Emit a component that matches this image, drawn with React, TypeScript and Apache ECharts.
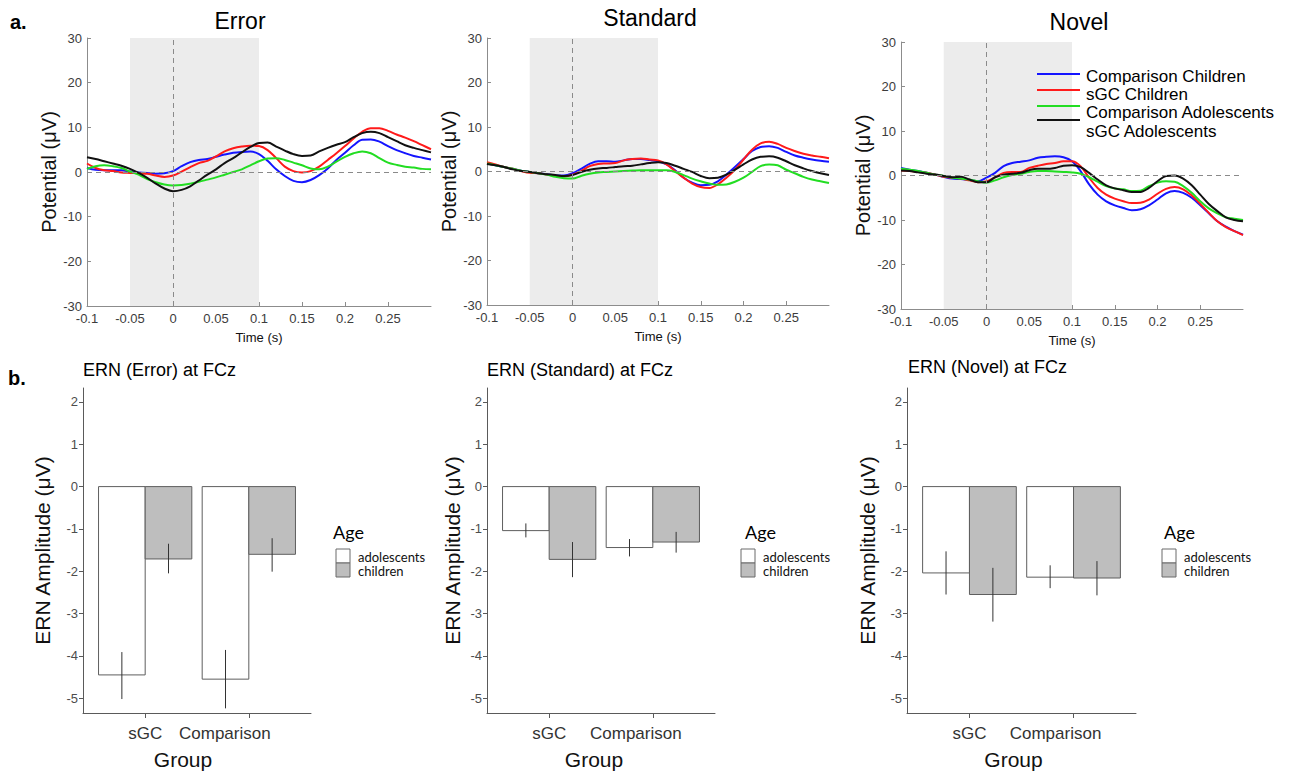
import React, { useEffect, useRef } from "react";
import * as echarts from "echarts";

// ---- ERP waveforms (µV), sampled every 10 ms from -0.1 s to 0.3 s ----
const TIME: number[] = Array.from({ length: 41 }, (_, i) => Math.round((-0.1 + i * 0.01) * 100) / 100);

const SERIES_NAMES = ["Comparison Children", "sGC Children", "Comparison Adolescents", "sGC Adolescents"];
const SERIES_COLORS = ["#1414ff", "#ff1a1a", "#22dd22", "#111111"];

const ERROR_COMP_CHILD = [0.9, 0.5, 0.4, 0.4, 0.4, 0.1, -0.1, -0.2, -0.4, -0.3, 0.2, 1.3, 2.2, 2.7, 2.9, 3.4, 3.9, 4.3, 4.5, 4.6, 4.0, 2.5, 0.6, -0.9, -2.0, -2.3, -1.8, -0.7, 0.8, 2.7, 4.3, 6.0, 7.2, 7.3, 6.8, 5.8, 4.9, 4.2, 3.6, 3.2, 2.8];
const ERROR_SGC_CHILD = [1.9, 0.9, 0.4, 0.2, -0.1, -0.2, -0.3, -0.4, -0.8, -1.1, -0.8, 0.1, 1.1, 2.0, 2.5, 3.5, 4.6, 5.3, 5.7, 5.9, 5.8, 4.9, 3.1, 1.2, 0.2, -0.1, 0.2, 1.2, 2.7, 4.2, 5.8, 7.5, 9.0, 9.8, 9.8, 9.2, 8.4, 7.7, 6.9, 6.0, 5.1];
const ERROR_COMP_ADOL = [0.7, 1.3, 1.5, 1.3, 0.9, 0.1, -0.6, -1.6, -2.3, -2.8, -3.0, -2.9, -2.6, -2.2, -1.7, -1.2, -0.6, 0.0, 0.6, 1.5, 2.4, 3.0, 3.1, 2.7, 2.1, 1.5, 0.8, 0.6, 1.2, 2.3, 3.4, 4.2, 4.6, 4.2, 3.1, 2.1, 1.6, 1.2, 1.0, 0.7, 0.6];
const ERROR_SGC_ADOL = [3.3, 2.9, 2.4, 1.9, 1.4, 0.7, -0.2, -1.3, -2.6, -3.7, -4.3, -4.0, -3.2, -1.9, -0.6, 0.6, 2.0, 3.1, 4.4, 5.6, 6.5, 6.6, 5.7, 4.8, 4.0, 3.6, 3.7, 4.6, 5.4, 6.1, 6.7, 7.8, 8.7, 9.0, 8.7, 7.8, 6.9, 6.0, 5.4, 4.9, 4.4];

const STD_COMP_CHILD = [1.8, 1.4, 1.0, 0.6, 0.2, -0.1, -0.4, -0.6, -0.9, -0.9, -0.4, 0.6, 1.7, 2.3, 2.3, 2.2, 2.5, 2.8, 2.8, 2.6, 2.3, 1.6, 0.3, -1.4, -2.5, -3.1, -3.0, -2.2, -0.7, 1.0, 2.8, 4.6, 5.5, 5.7, 5.3, 4.4, 3.6, 3.1, 2.7, 2.4, 2.2];
const STD_SGC_CHILD = [2.1, 1.6, 1.0, 0.6, 0.1, -0.3, -0.4, -0.7, -1.0, -1.1, -0.7, 0.1, 1.2, 1.7, 1.8, 1.9, 2.5, 2.8, 2.9, 2.7, 2.5, 1.6, 0.1, -1.4, -2.7, -3.5, -3.7, -2.9, -1.4, 0.4, 2.7, 4.9, 6.3, 6.7, 6.2, 5.3, 4.6, 4.0, 3.6, 3.3, 3.0];
const STD_COMP_ADOL = [1.8, 1.4, 1.0, 0.6, 0.2, -0.1, -0.4, -0.7, -1.2, -1.5, -1.6, -1.0, -0.5, -0.2, -0.1, 0.0, 0.1, 0.2, 0.3, 0.3, 0.3, 0.3, -0.1, -0.8, -1.6, -2.2, -2.7, -3.0, -2.9, -2.3, -1.4, -0.1, 1.2, 1.6, 1.4, 0.4, -0.4, -1.2, -1.8, -2.2, -2.6];
const STD_SGC_ADOL = [1.7, 1.4, 1.0, 0.5, 0.1, -0.1, -0.4, -0.6, -0.8, -1.0, -0.8, -0.1, 0.4, 0.7, 0.8, 1.0, 1.2, 1.3, 1.6, 1.9, 2.1, 1.9, 1.3, 0.6, -0.1, -1.0, -1.5, -1.4, -0.7, 0.4, 1.6, 2.7, 3.3, 3.4, 3.1, 2.3, 1.4, 0.7, 0.1, -0.4, -0.8];

const NOV_COMP_CHILD = [1.7, 1.3, 1.0, 0.6, 0.2, -0.3, -0.7, -0.8, -1.0, -1.3, -0.5, 0.6, 2.1, 2.8, 3.1, 3.4, 4.0, 4.2, 4.3, 4.1, 3.2, 1.0, -2.0, -4.3, -5.8, -6.7, -7.3, -7.8, -7.6, -6.7, -5.4, -4.0, -3.5, -3.9, -5.0, -6.7, -8.5, -10.3, -11.5, -12.5, -13.3];
const NOV_SGC_CHILD = [1.1, 1.0, 0.8, 0.6, 0.2, -0.3, -0.5, -0.7, -1.1, -1.5, -1.3, -0.4, 0.6, 0.8, 0.8, 1.7, 2.2, 2.6, 2.8, 3.2, 3.2, 2.1, -0.5, -2.8, -4.3, -5.2, -5.8, -6.2, -6.1, -5.4, -4.1, -3.0, -2.6, -3.1, -4.5, -6.4, -8.4, -10.3, -11.6, -12.5, -13.4];
const NOV_COMP_ADOL = [1.5, 1.3, 1.0, 0.6, 0.2, -0.1, -0.5, -0.7, -0.9, -1.3, -1.6, -1.1, -0.4, 0.1, 0.4, 0.8, 1.0, 1.0, 0.9, 0.8, 0.7, 0.4, -0.4, -1.4, -2.4, -2.9, -3.1, -3.5, -3.4, -2.4, -1.6, -1.3, -1.4, -2.4, -3.9, -5.8, -7.4, -8.5, -9.4, -9.7, -10.0];
const NOV_SGC_ADOL = [1.1, 1.0, 0.7, 0.4, 0.2, -0.1, -0.4, -0.3, -0.9, -1.5, -1.5, -0.4, 0.2, 0.4, 0.6, 1.2, 1.5, 1.5, 1.7, 2.2, 2.3, 1.9, 0.6, -0.9, -2.2, -2.9, -3.3, -3.7, -3.7, -2.8, -1.3, -0.1, 0.0, -0.7, -2.2, -4.3, -6.4, -8.0, -9.4, -10.0, -10.3];

const TOP_TITLES = ["Error", "Standard", "Novel"];
const TOP_DATA = [
  [ERROR_COMP_CHILD, ERROR_SGC_CHILD, ERROR_COMP_ADOL, ERROR_SGC_ADOL],
  [STD_COMP_CHILD, STD_SGC_CHILD, STD_COMP_ADOL, STD_SGC_ADOL],
  [NOV_COMP_CHILD, NOV_SGC_CHILD, NOV_COMP_ADOL, NOV_SGC_ADOL],
];
const TIME_TICKS = [-0.1, -0.05, 0, 0.05, 0.1, 0.15, 0.2, 0.25];
const WINDOW_START = -0.05;
const WINDOW_END = 0.1;

// ---- ERN amplitudes (mean, lower, upper) ----
const GROUPS = ["sGC", "Comparison"];
const AGE_LEVELS = ["adolescents", "children"];

const ERN_ERROR_ADOL = [-4.45, -4.55];
const ERN_ERROR_ADOL_LO = [-5.02, -5.24];
const ERN_ERROR_ADOL_HI = [-3.91, -3.86];
const ERN_ERROR_CHILD = [-1.71, -1.6];
const ERN_ERROR_CHILD_LO = [-2.05, -2.01];
const ERN_ERROR_CHILD_HI = [-1.35, -1.22];

const ERN_STD_ADOL = [-1.04, -1.44];
const ERN_STD_ADOL_LO = [-1.2, -1.65];
const ERN_STD_ADOL_HI = [-0.87, -1.24];
const ERN_STD_CHILD = [-1.72, -1.31];
const ERN_STD_CHILD_LO = [-2.14, -1.56];
const ERN_STD_CHILD_HI = [-1.31, -1.07];

const ERN_NOV_ADOL = [-2.04, -2.14];
const ERN_NOV_ADOL_LO = [-2.55, -2.4];
const ERN_NOV_ADOL_HI = [-1.53, -1.86];
const ERN_NOV_CHILD = [-2.55, -2.16];
const ERN_NOV_CHILD_LO = [-3.19, -2.57];
const ERN_NOV_CHILD_HI = [-1.92, -1.76];

const BAR_TITLES = ["ERN (Error) at FCz", "ERN (Standard) at FCz", "ERN (Novel) at FCz"];
const BAR_DATA = [
  [
    [ERN_ERROR_ADOL, ERN_ERROR_ADOL_LO, ERN_ERROR_ADOL_HI],
    [ERN_ERROR_CHILD, ERN_ERROR_CHILD_LO, ERN_ERROR_CHILD_HI],
  ],
  [
    [ERN_STD_ADOL, ERN_STD_ADOL_LO, ERN_STD_ADOL_HI],
    [ERN_STD_CHILD, ERN_STD_CHILD_LO, ERN_STD_CHILD_HI],
  ],
  [
    [ERN_NOV_ADOL, ERN_NOV_ADOL_LO, ERN_NOV_ADOL_HI],
    [ERN_NOV_CHILD, ERN_NOV_CHILD_LO, ERN_NOV_CHILD_HI],
  ],
];
const AMP_TICKS = [-5, -4, -3, -2, -1, 0, 1, 2];

// ---- layout ----
const FONT = "'Liberation Sans', Arial, sans-serif";
const KEY_FONT = "Lato, 'Liberation Sans', sans-serif";
const TOP_GRIDS = [
  { left: 87, top: 38, width: 344, height: 268 },
  { left: 487, top: 38, width: 342, height: 267 },
  { left: 901, top: 42, width: 342, height: 267 },
];
const TOP_TITLE_POS = [
  [240, 21],
  [650, 18],
  [1079, 22],
];
const BAR_GRIDS = [
  { left: 83, top: 388, width: 228, height: 325 },
  { left: 487, top: 388, width: 228, height: 325 },
  { left: 907, top: 388, width: 229, height: 325 },
];
const BAR_TITLE_POS = [
  [83, 370],
  [487, 370],
  [908, 367],
];
const BAR_NAME_GAP = [30, 24, 29];
const COMPARISON_SHIFT = [48, 34, 36];
const GROUP_SHIFT = [28, 14, 16];
const KEY_POS = [
  { age: 333, box: 336 },
  { age: 745, box: 741 },
  { age: 1164, box: 1162 },
];
const AGE_FILLS = ["#ffffff", "#bebebe"];
const BAR_HALF = 0.225;

function fmtTime(v: number) {
  return String(Math.round(v * 100) / 100);
}

function buildOption() {
  const grid: any[] = [];
  const xAxis: any[] = [];
  const yAxis: any[] = [];
  const series: any[] = [];
  const graphic: any[] = [];

  // waveform panels
  TOP_GRIDS.forEach((g, i) => {
    grid.push({ ...g, containLabel: false });
    xAxis.push({
      type: "value",
      gridIndex: i,
      min: -0.1,
      max: 0.3,
      interval: 0.05,
      name: "Time (s)",
      nameLocation: "middle",
      nameGap: 25,
      nameTextStyle: { fontSize: 13, color: "#111", fontFamily: FONT },
      axisLine: { onZero: false, lineStyle: { color: "#8c8c8c", width: 1 } },
      axisTick: { inside: true, length: 4, lineStyle: { color: "#8c8c8c" }, customValues: TIME_TICKS },
      axisLabel: { fontSize: 13, color: "#3c3c3c", margin: 6, customValues: TIME_TICKS, formatter: fmtTime },
      splitLine: { show: false },
    });
    yAxis.push({
      type: "value",
      gridIndex: i,
      min: -30,
      max: 30,
      interval: 10,
      name: "Potential (μV)",
      nameLocation: "middle",
      nameGap: 24,
      nameTextStyle: { fontSize: 20, color: "#111", fontFamily: FONT },
      axisLine: { show: true, onZero: false, lineStyle: { color: "#8c8c8c", width: 1 } },
      axisTick: { show: true, inside: true, length: 4, lineStyle: { color: "#8c8c8c" } },
      axisLabel: { fontSize: 13, color: "#3c3c3c", margin: 5 },
      splitLine: { show: false },
    });
    // response window shading and reference lines
    series.push({
      type: "line",
      name: "window-" + i,
      xAxisIndex: i,
      yAxisIndex: i,
      data: [],
      silent: true,
      z: 1,
      markArea: {
        silent: true,
        itemStyle: { color: "#ececec" },
        data: [[{ xAxis: WINDOW_START }, { xAxis: WINDOW_END }]],
      },
      markLine: {
        silent: true,
        symbol: ["none", "none"],
        label: { show: false },
        lineStyle: { type: [5, 4], color: "#8a8a8a", width: 1 },
        data: [{ xAxis: 0 }, { yAxis: 0 }],
      },
    });
    TOP_DATA[i].forEach((vals, k) => {
      series.push({
        type: "line",
        name: SERIES_NAMES[k],
        xAxisIndex: i,
        yAxisIndex: i,
        data: TIME.map((t, j) => [t, vals[j]]),
        showSymbol: false,
        smooth: 0.35,
        z: 3,
        lineStyle: { color: SERIES_COLORS[k], width: 2 },
        itemStyle: { color: SERIES_COLORS[k] },
      });
    });
    graphic.push({
      type: "text",
      x: TOP_TITLE_POS[i][0],
      y: TOP_TITLE_POS[i][1],
      style: { text: TOP_TITLES[i], font: `23px ${FONT}`, fill: "#000", textAlign: "center", textVerticalAlign: "middle" },
    });
  });

  // line key inside the Novel panel, drawn above the shaded window
  const keyLineY = [74, 90, 106, 120];
  const keyTextY = [76, 94, 112, 131];
  SERIES_NAMES.forEach((name, k) => {
    graphic.push({
      type: "line",
      z: 100,
      shape: { x1: 1037, y1: keyLineY[k], x2: 1080, y2: keyLineY[k] },
      style: { stroke: SERIES_COLORS[k], lineWidth: 2 },
    });
    graphic.push({
      type: "text",
      z: 100,
      x: 1086,
      y: keyTextY[k],
      style: { text: name, font: `17px ${FONT}`, fill: "#000", textAlign: "left", textVerticalAlign: "middle" },
    });
  });

  // amplitude bar panels
  BAR_GRIDS.forEach((g, p) => {
    const gi = 3 + p;
    grid.push({ ...g, containLabel: false });
    const shift = COMPARISON_SHIFT[p];
    xAxis.push({
      type: "value",
      gridIndex: gi,
      min: 0.4,
      max: 2.6,
      name: "Group",
      nameLocation: "middle",
      nameGap: 36,
      nameTextStyle: { fontSize: 21, color: "#111", fontFamily: FONT, padding: [0, GROUP_SHIFT[p], 0, 0] },
      axisLine: { onZero: false, lineStyle: { color: "#5a5a5a", width: 1 } },
      axisTick: { length: 5, lineStyle: { color: "#5a5a5a" }, customValues: [1, 2] },
      axisLabel: {
        customValues: [1, 2],
        margin: 12,
        formatter: (v: number) => (Math.round(v) === 1 ? `{a|${GROUPS[0]}}` : `{b|${GROUPS[1]}}`),
        rich: {
          a: { fontSize: 17, color: "#333", fontFamily: FONT },
          b: { fontSize: 17, color: "#333", fontFamily: FONT, padding: [0, shift, 0, 0] },
        },
      },
      splitLine: { show: false },
    });
    yAxis.push({
      type: "value",
      gridIndex: gi,
      min: -5.35,
      max: 2.33,
      name: "ERN Amplitude (μV)",
      nameLocation: "middle",
      nameGap: BAR_NAME_GAP[p],
      nameTextStyle: { fontSize: 21, color: "#111", fontFamily: FONT },
      axisLine: { show: true, onZero: false, lineStyle: { color: "#5a5a5a", width: 1 } },
      axisTick: { show: true, length: 4, lineStyle: { color: "#5a5a5a" }, customValues: AMP_TICKS },
      axisLabel: { fontSize: 13, color: "#4d4d4d", margin: 5, customValues: AMP_TICKS },
      splitLine: { show: false },
    });
    AGE_LEVELS.forEach((age, a) => {
      const [means, los, his] = BAR_DATA[p][a];
      const offset = a === 0 ? -BAR_HALF : BAR_HALF;
      const fill = AGE_FILLS[a];
      series.push({
        type: "custom",
        name: age,
        xAxisIndex: gi,
        yAxisIndex: gi,
        data: GROUPS.map((_, c) => [c + 1, means[c], los[c], his[c]]),
        encode: { x: 0, y: [1, 2, 3] },
        renderItem: (_params: any, api: any) => {
          const cx = api.value(0) + offset;
          const v = api.value(1);
          const p0 = api.coord([cx - BAR_HALF, 0]);
          const p1 = api.coord([cx + BAR_HALF, v]);
          const eTop = api.coord([cx, api.value(3)]);
          const eBot = api.coord([cx, api.value(2)]);
          return {
            type: "group",
            children: [
              {
                type: "rect",
                shape: {
                  x: p0[0],
                  y: Math.min(p0[1], p1[1]),
                  width: p1[0] - p0[0],
                  height: Math.abs(p1[1] - p0[1]),
                },
                style: { fill, stroke: "#5e5e5e", lineWidth: 1 },
              },
              {
                type: "line",
                shape: { x1: eTop[0], y1: eTop[1], x2: eBot[0], y2: eBot[1] },
                style: { stroke: "#333", lineWidth: 1 },
              },
            ],
          };
        },
      });
    });
    graphic.push({
      type: "text",
      x: BAR_TITLE_POS[p][0],
      y: BAR_TITLE_POS[p][1],
      style: { text: BAR_TITLES[p], font: `18px ${FONT}`, fill: "#000", textAlign: "left", textVerticalAlign: "middle" },
    });
    // Age key
    const kp = KEY_POS[p];
    graphic.push({
      type: "text",
      x: kp.age,
      y: 532,
      style: { text: "Age", font: `18px ${KEY_FONT}`, fill: "#000", textAlign: "left", textVerticalAlign: "middle" },
    });
    AGE_LEVELS.forEach((age, a) => {
      graphic.push({
        type: "rect",
        shape: { x: kp.box, y: 549 + a * 14, width: 14, height: 14 },
        style: { fill: AGE_FILLS[a], stroke: "#6a6a6a", lineWidth: 1 },
      });
      graphic.push({
        type: "text",
        x: kp.box + 22,
        y: 557 + a * 14,
        style: { text: age, font: `13px ${KEY_FONT}`, fill: "#111", textAlign: "left", textVerticalAlign: "middle" },
      });
    });
  });

  graphic.push({
    type: "text",
    x: 10,
    y: 22,
    style: { text: "a.", font: `bold 20px ${FONT}`, fill: "#000", textAlign: "left", textVerticalAlign: "middle" },
  });
  graphic.push({
    type: "text",
    x: 8,
    y: 378,
    style: { text: "b.", font: `bold 20px ${FONT}`, fill: "#000", textAlign: "left", textVerticalAlign: "middle" },
  });

  return {
    animation: false,
    backgroundColor: "#ffffff",
    textStyle: { fontFamily: FONT },
    grid,
    xAxis,
    yAxis,
    series,
    graphic,
  };
}

export default function App() {
  const ref = useRef<HTMLDivElement | null>(null);
  useEffect(() => {
    if (!ref.current) return;
    const chart = echarts.init(ref.current, null, { renderer: "svg" });
    chart.setOption(buildOption() as any);
    return () => chart.dispose();
  }, []);
  return (
    <div
      ref={ref}
      style={{ position: "fixed", left: 0, top: 0, width: 1306, height: 775, background: "#fff" }}
    />
  );
}
